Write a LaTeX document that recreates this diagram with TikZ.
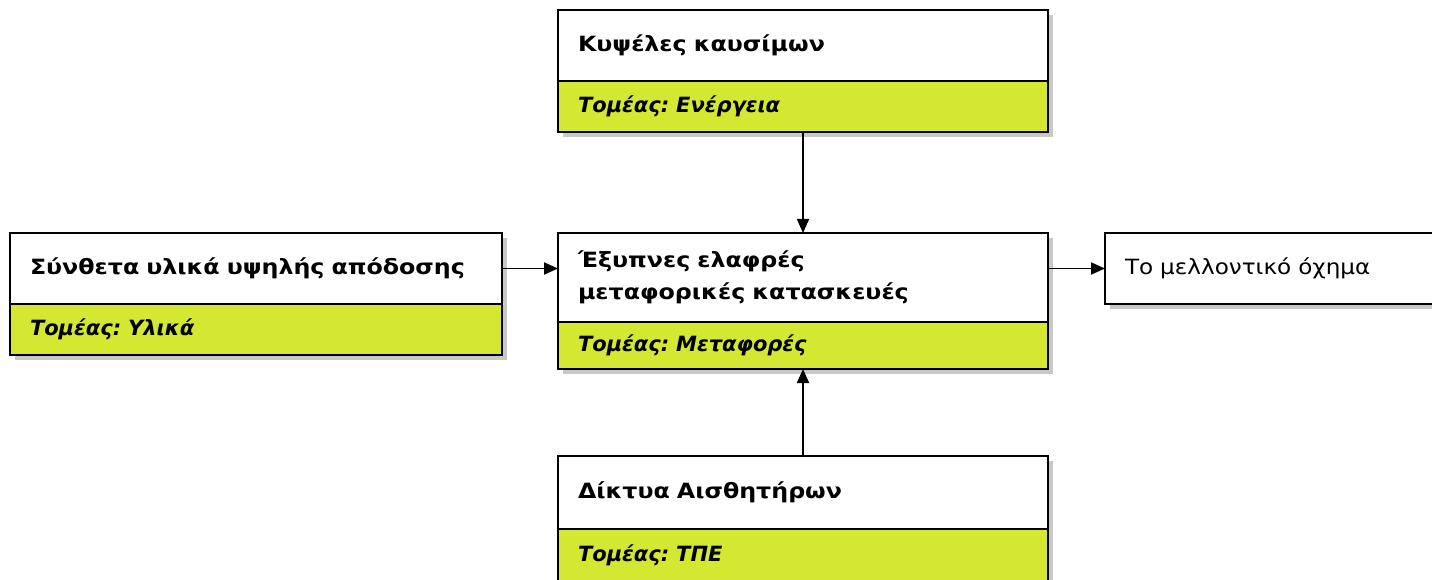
\documentclass[tikz,border=0pt]{standalone}
\usepackage{fontspec}
\setmainfont{DejaVu Sans}
\newfontfamily\widefont[FakeStretch=1.13]{DejaVu Sans}
\newfontfamily\plainwidefont[FakeStretch=1.10]{DejaVu Sans}
\usetikzlibrary{arrows.meta,shadows}
\definecolor{sectorgreen}{RGB}{212,232,50}
\definecolor{shadowgray}{RGB}{200,200,200}
\frenchspacing
\begin{document}
\begin{tikzpicture}[x=1pt,y=-1pt,
  every node/.style={inner sep=0pt, outer sep=0pt},
  boxpart/.style={draw=black, line width=1.8pt, anchor=north west,
    inner xsep=20pt, inner ysep=0pt, align=left,
    drop shadow={shadow xshift=5pt, shadow yshift=-5pt, fill=shadowgray, opacity=1}},
  titlebox/.style={boxpart, fill=white, font=\widefont\fontsize{21}{32}\selectfont\bfseries},
  sectorbox/.style={boxpart, fill=sectorgreen, font=\fontsize{21}{24}\selectfont\bfseries\itshape},
  plainbox/.style={boxpart, fill=white, font=\plainwidefont\fontsize{21}{24}\selectfont},
  link/.style={line width=1.8pt, -{Triangle[length=14pt,width=12pt]}}
]
\useasboundingbox (0,0) rectangle (1432,580);
\clip (0,0) rectangle (1432,580);

% fuel cells
\node[titlebox, text width=450pt, minimum height=71pt] (fuelT) at (558,10) {Κυψέλες καυσίμων};
\node[sectorbox, text width=450pt, minimum height=51pt] (fuelS) at (558,81) {Τομέας: Ενέργεια};

% composite materials
\node[titlebox, text width=452pt, minimum height=71pt] (compT) at (10,233) {Σύνθετα υλικά υψηλής απόδοσης};
\node[sectorbox, text width=452pt, minimum height=51pt] (compS) at (10,304) {Τομέας: Υλικά};

% smart lightweight structures
\node[titlebox, text width=450pt, minimum height=89pt] (smartT) at (558,233) {Έξυπνες ελαφρές\\μεταφορικές κατασκευές};
\node[sectorbox, text width=450pt, minimum height=47pt] (smartS) at (558,322) {Τομέας: Μεταφορές};

% sensor networks
\node[titlebox, text width=450pt, minimum height=73pt] (sensT) at (558,456) {Δίκτυα Αισθητήρων};
\node[sectorbox, text width=450pt, minimum height=53pt] (sensS) at (558,529) {Τομέας: ΤΠΕ};

% the future vehicle
\node[plainbox, text width=330pt, minimum height=71pt] (car) at (1105,233) {Το μελλοντικό όχημα};

% connectors
\draw[link] (fuelS.south) -- (smartT.north);
\draw[link] (sensT.north) -- (smartS.south);
\draw[link] (compT.east) -- (compT.east -| smartT.west);
\draw[link] (car.west -| smartT.east) -- (car.west);
\end{tikzpicture}
\end{document}
